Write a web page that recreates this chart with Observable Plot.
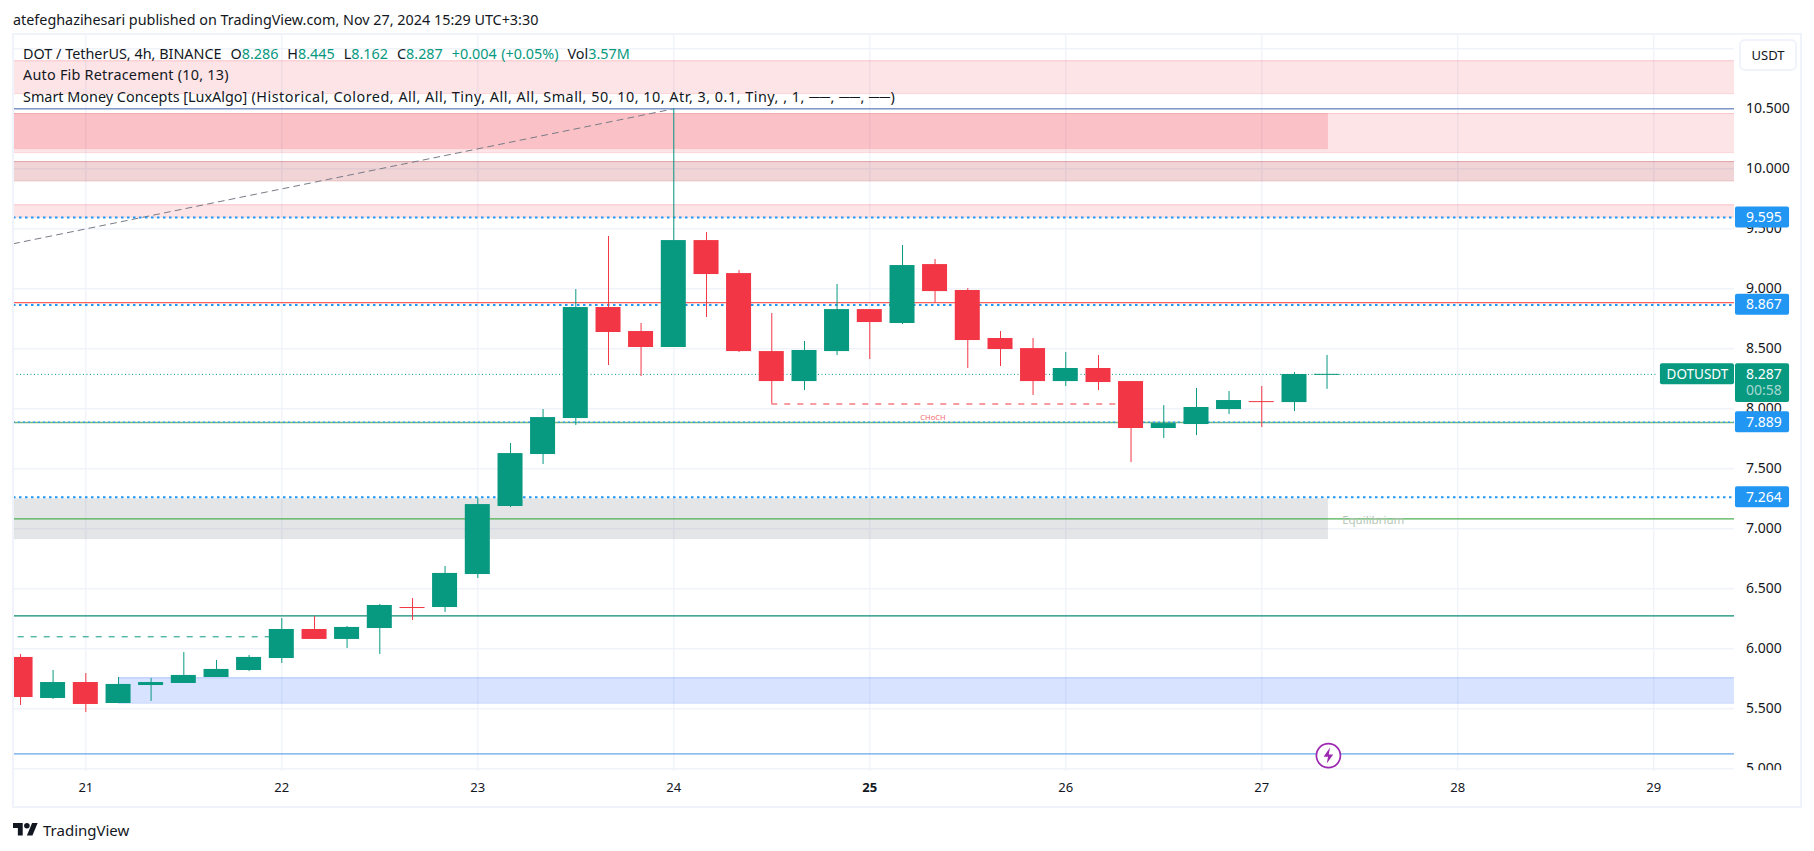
<!DOCTYPE html>
<html>
<head>
<meta charset="utf-8">
<script src="https://cdn.jsdelivr.net/npm/d3@7"></script>
<script src="https://cdn.jsdelivr.net/npm/@observablehq/plot@0.6"></script>
<style>
  html,body{margin:0;padding:0;background:#fff;width:1814px;height:851px;overflow:hidden;font-family:"Noto Sans",sans-serif;color:#131722}
  #head{position:absolute;left:13px;top:10px;font-size:14.36px;line-height:20px;white-space:nowrap}
  #chart{position:absolute;left:0;top:34px}
  #frame{position:absolute;left:12px;top:33px;width:1786px;height:771px;border:2px solid #f0f3fa;pointer-events:none}
  #legend{position:absolute;left:23px;top:43px;font-size:14.4px;line-height:21.4px;white-space:pre}
  #legend b{font-weight:400;color:#089981}
  #legend .w{word-spacing:.7px}
  #legend .a{letter-spacing:.23px}
  #legend .s{letter-spacing:.5px}
  #unit{position:absolute;left:1739px;top:39px;width:54px;height:28px;border:2px solid #f0f3fa;border-radius:6px;background:#fff;text-align:center;font-size:13px;line-height:28px}
  #brand{position:absolute;left:13px;top:820px;display:flex;align-items:center;gap:5px;font-size:15px;line-height:20px}
</style>
</head>
<body>
<div id="head">atefeghazihesari published on TradingView.com, Nov 27, 2024 15:29 UTC+3:30</div>
<div id="chart"></div>
<div id="frame"></div>
<div id="legend">DOT / TetherUS, 4h, BINANCE<span class="w">  O<b>8.286</b>  H<b>8.445</b>  L<b>8.162</b>  C<b>8.287</b>  <b>+0.004 (+0.05%)</b>  Vol<b>3.57M</b></span>
<span class="a">Auto Fib Retracement (10, 13)</span>
Smart Money Concepts [LuxAlgo]<span class="s"> (Historical, Colored, All, All, Tiny, All, All, Small, 50, 10, 10, Atr, 3, 0.1, Tiny, , 1, ──, ──, ──)</span></div>
<div id="unit">USDT</div>
<div id="brand"><svg width="25" height="20" viewBox="0 0 36 28" fill="#131722"><path d="M14 22H7V11H0V4h14v18zM28 22h-8l7.5-18h8L28 22z"/><circle cx="20" cy="8" r="4"/></svg><span>TradingView</span></div>
<script>
// ---- candle data (day of month, prices) ----
const candleDay = [20.667,20.833,21,21.167,21.333,21.5,21.667,21.833,22,22.167,22.333,22.5,22.667,22.833,23,23.167,23.333,23.5,23.667,23.833,24,24.167,24.333,24.5,24.667,24.833,25,25.167,25.333,25.5,25.667,25.833,26,26.167,26.333,26.5,26.667,26.833,27,27.167,27.333];
const opens  = [5.928,5.586,5.719,5.544,5.694,5.711,5.761,5.819,5.919,6.161,6.078,6.169,6.353,6.344,6.619,7.186,7.619,7.919,8.844,8.644,8.511,9.402,9.127,8.477,8.227,8.477,8.827,8.711,9.202,8.986,8.586,8.502,8.227,8.336,8.227,7.836,7.869,7.994,8.069,8.052,8.286];
const highs  = [5.953,5.819,5.794,5.761,5.753,5.969,5.903,5.944,6.253,6.269,6.186,6.369,6.419,6.686,7.258,7.711,7.994,8.994,9.436,8.711,10.5,9.469,9.152,8.794,8.561,9.036,8.827,9.361,9.244,9.002,8.644,8.586,8.469,8.444,8.227,8.027,8.169,8.144,8.186,8.302,8.445];
const lows   = [5.528,5.578,5.469,5.544,5.561,5.711,5.761,5.811,5.878,6.078,6.003,5.953,6.236,6.303,6.586,7.177,7.536,7.861,8.361,8.269,8.511,8.761,8.469,8.041,8.152,8.444,8.411,8.702,8.883,8.336,8.352,8.111,8.186,8.152,7.552,7.752,7.777,7.952,7.844,7.977,8.162];
const closes = [5.594,5.719,5.536,5.703,5.719,5.778,5.828,5.928,6.161,6.078,6.178,6.361,6.344,6.628,7.202,7.627,7.927,8.844,8.636,8.511,9.402,9.119,8.477,8.227,8.486,8.827,8.719,9.194,8.977,8.569,8.494,8.227,8.336,8.219,7.836,7.877,8.011,8.069,8.060,8.286,8.287];

// ---- axes ----
const priceTicks = [5,5.5,6,6.5,7,7.5,8,8.5,9,9.5,10,10.5];
const gridPrices = [5,5.5,6,6.5,7,7.5,8,8.5,9,9.5,10,10.5,11];
const dayTicks   = [21,22,23,24,26,27,28,29];
const boldDay    = [25];

// ---- zones: [top, bottom] prices ----
const supplyTop  = [10.90, 10.46, 9.70];
const supplyLow  = [10.627, 10.135, 9.598];
const strongZone = [10.46, 10.16];
const midZone    = [10.06, 9.90];
const equilZone  = [7.25, 6.91];
const demandZone = [5.758, 5.547];

// ---- levels ----
const fibLevels  = [9.595, 8.865, 7.264];
const priceNow   = 8.287;
const labelBlue  = [9.595, 8.867, 7.889, 7.264];
const fibDays    = [20.631, 24];
const fibPrices  = [9.376, 10.5];

const dayMin = 20.631, dayMax = 29.412, zoneEnd = 27.34, labelEnd = 29.693;
const priceMin = 4.9775, priceMax = 11.111;
const up = "#089981", down = "#f23645";
const fmt3 = d3.format(".3f");

const candles = candleDay.map((d,i)=>({d,o:opens[i],h:highs[i],l:lows[i],c:closes[i],col:closes[i]>=opens[i]?up:down}));
const bodies = candles.filter(c=>Math.abs(c.o-c.c)>=0.02);
const dojis  = candles.filter(c=>Math.abs(c.o-c.c)<0.02);
const supply = supplyTop.map((t,i)=>({t,b:supplyLow[i]}));

const edge = (vals,color,op)=>Plot.ruleY(vals,{x1:dayMin,x2:dayMax,stroke:color,strokeOpacity:op,strokeWidth:1});
const bolt = {draw(ctx,size){
  const s = Math.sqrt(size/Math.PI);
  const p = [[0.2,-1],[-0.6,0.15],[-0.05,0.15],[-0.2,1],[0.6,-0.15],[0.05,-0.15]];
  p.forEach(([a,b],i)=> i ? ctx.lineTo(a*s,b*s) : ctx.moveTo(a*s,b*s));
  ctx.closePath();
}};

const plot = Plot.plot({
  width:1814, height:773,
  marginLeft:13, marginRight:80, marginTop:1, marginBottom:36,
  x:{type:"linear",domain:[dayMin,dayMax],range:[13,1734]},
  y:{type:"linear",domain:[priceMin,priceMax]},
  style:{fontFamily:"'Noto Sans',sans-serif",fontSize:"14px",background:"transparent",color:"#131722"},
  marks:[
    // grid
    Plot.ruleY(gridPrices,{x1:dayMin,x2:dayMax,stroke:"#f0f3fa",strokeWidth:1.4}),
    Plot.ruleX(dayTicks.concat(boldDay),{y1:priceMin,y2:priceMax,stroke:"#f0f3fa",strokeWidth:1.4}),
    // zones
    Plot.rect(supply,{x1:dayMin,x2:dayMax,y1:"t",y2:"b",fill:down,fillOpacity:0.13}),
    edge(supplyTop,down,0.2), edge(supplyLow,down,0.2),
    Plot.rect([strongZone],{x1:dayMin,x2:zoneEnd,y1:d=>d[0],y2:d=>d[1],fill:down,fillOpacity:0.2}),
    Plot.rect([midZone],{x1:dayMin,x2:dayMax,y1:d=>d[0],y2:d=>d[1],fill:"#b22833",fillOpacity:0.2}),
    edge(midZone,"#b22833",0.3),
    Plot.rect([equilZone],{x1:dayMin,x2:zoneEnd,y1:d=>d[0],y2:d=>d[1],fill:"#787b86",fillOpacity:0.2}),
    Plot.rect([demandZone],{x1:21.167,x2:dayMax,y1:d=>d[0],y2:d=>d[1],fill:"#2962ff",fillOpacity:0.18}),
    Plot.ruleY(demandZone,{x1:21.167,x2:dayMax,stroke:"#2962ff",strokeOpacity:0.25}),
    // level lines
    Plot.line(fibDays.map((d,i)=>({d,p:fibPrices[i]})),{x:"d",y:"p",stroke:"#787b86",strokeWidth:1,strokeDasharray:"6,5"}),
    Plot.ruleY([10.5],{x1:dayMin,x2:dayMax,stroke:"#7f96c8",strokeWidth:1.4}),
    Plot.ruleY([7.886],{x1:dayMin,x2:dayMax,stroke:"#74b97f",strokeWidth:1.3}),
    Plot.ruleY([7.083],{x1:dayMin,x2:dayMax,stroke:"#4caf50",strokeWidth:1.2}),
    Plot.ruleY([6.275],{x1:dayMin,x2:dayMax,stroke:"#0c8a72",strokeWidth:1.2}),
    Plot.ruleY([5.125],{x1:dayMin,x2:dayMax,stroke:"#64a8e8",strokeWidth:1.2}),
    Plot.ruleY(fibLevels,{x1:dayMin,x2:dayMax,stroke:"#2196f3",strokeWidth:2,strokeDasharray:"2.5,3.5"}),
    Plot.ruleY([8.884],{x1:dayMin,x2:dayMax,stroke:"#f4362f",strokeWidth:1}),
    Plot.ruleY([7.889],{x1:dayMin,x2:dayMax,stroke:"#2196f3",strokeWidth:1.3,strokeDasharray:"2,3"}),
    Plot.ruleY([priceNow],{x1:dayMin,x2:29.024,stroke:up,strokeWidth:1,strokeDasharray:"1,2.5"}),
    Plot.ruleY([6.10],{x1:20.655,x2:21.94,stroke:up,strokeWidth:1,strokeDasharray:"6,7"}),
    Plot.ruleY([8.04],{x1:24.5,x2:26.27,stroke:down,strokeWidth:1,strokeDasharray:"6,7"}),
    // candles
    Plot.ruleX(candles,{x:"d",y1:"l",y2:"h",stroke:"col",strokeWidth:1}),
    Plot.rect(bodies,{x1:d=>Math.max(dayMin,d.d-0.0638),x2:d=>d.d+0.0638,y1:"o",y2:"c",fill:"col"}),
    Plot.ruleY(dojis,{x1:d=>d.d-0.0638,x2:d=>d.d+0.0638,y:"c",stroke:"col",strokeWidth:1}),
    // chart annotations
    Plot.text(["CHoCH"],{x:25.322,y:7.925,text:d=>d,fill:down,fillOpacity:0.8,fontSize:7.5}),
    Plot.text(["Equilibrium"],{x:27.41,y:7.083,text:d=>d,textAnchor:"start",dy:1,fill:"#b3c6b5",fontSize:11.5}),
    Plot.dot([5.11],{x:zoneEnd,y:d=>d,r:12,fill:"#fff",stroke:"#9c27b0",strokeWidth:1.7}),
    Plot.dot([5.11],{x:zoneEnd,y:d=>d,r:8,symbol:bolt,fill:"#9c27b0",stroke:"none"}),
    // axes
    Plot.axisX(dayTicks,{anchor:"bottom",tickSize:0,tickPadding:11,label:null,fontSize:13,tickFormat:d3.format("d")}),
    Plot.axisX(boldDay,{anchor:"bottom",tickSize:0,tickPadding:11,label:null,fontSize:13,fontWeight:700,tickFormat:d3.format("d")}),
    Plot.axisY(priceTicks,{anchor:"right",tickSize:0,tickPadding:11.5,textAnchor:"start",label:null,tickFormat:fmt3,fontSize:14}),
    // clip last price tick at pane bottom
    Plot.rect([0],{x1:dayMax,x2:labelEnd,y1:4.985,y2:4.88,fill:"#fff"}),
    // price labels
    Plot.rect(labelBlue,{x1:dayMax+0.005,x2:labelEnd,y1:d=>d+0.0875,y2:d=>d-0.0875,fill:"#2196f3",rx:2}),
    Plot.text(labelBlue,{x:dayMax,dx:11.5,y:d=>d,text:fmt3,textAnchor:"start",fill:"#fff",fontSize:14}),
    Plot.rect([0],{x1:dayMax+0.005,x2:labelEnd,y1:priceNow+0.0875,y2:priceNow-0.235,fill:up,rx:2}),
    Plot.text([priceNow],{x:dayMax,dx:11.5,y:d=>d,text:fmt3,textAnchor:"start",fill:"#fff",fontSize:14}),
    Plot.text(["00:58"],{x:dayMax,dx:11.5,y:priceNow-0.135,text:d=>d,textAnchor:"start",fill:"#ffffff",fillOpacity:0.65,fontSize:14}),
    Plot.rect([0],{x1:dayMax-0.378,x2:dayMax,y1:priceNow+0.0875,y2:priceNow-0.0875,fill:up,rx:2}),
    Plot.text(["DOTUSDT"],{x:dayMax-0.189,y:priceNow,text:d=>d,fill:"#fff",fontSize:13.5})
  ]
});
document.getElementById("chart").append(plot);
</script>
</body>
</html>
